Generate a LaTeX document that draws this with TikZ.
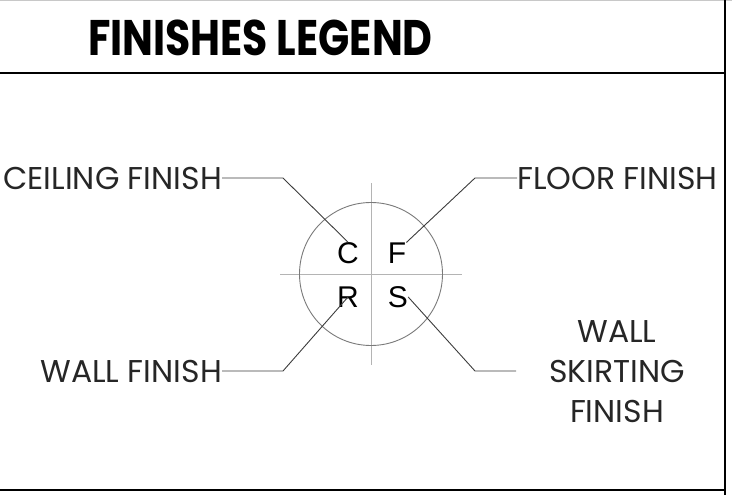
\documentclass[tikz,border=0pt]{standalone}
\usepackage{fontspec}
\setmainfont{Poppins}
\newfontfamily\keyfont{Liberation Sans}
\usetikzlibrary{positioning}
\definecolor{framegray}{HTML}{C8C8C8}
\definecolor{ringgray}{HTML}{7A7A7A}
\definecolor{crossgray}{HTML}{B4B4B4}
\definecolor{leadergray}{HTML}{3C3C3C}

\tikzset{
  frameline/.style={draw=black, line width=2pt},
  finishlabel/.style={inner sep=0pt, font=\fontsize{31.5}{40}\selectfont, text=black!85},
  keyletter/.style={inner sep=0pt, font=\keyfont\fontsize{30}{30}\selectfont},
  leader/.style={draw=leadergray, line width=0.9pt},
}

\begin{document}
\begin{tikzpicture}[x=1pt, y=-1pt]
  \useasboundingbox (0,0) rectangle (732,495);

  % sheet frame
  \draw[framegray, line width=1pt] (0,1) -- (732,1);
  \draw[frameline] (0,73) -- (725,73);
  \draw[frameline] (0,490) -- (725,490);
  \draw[frameline] (725,0) -- (725,495);

  % title
  \node[inner sep=0pt, anchor=west, xscale=0.82,
        font=\fontsize{50}{50}\bfseries\selectfont] (title) at (88,38) {FINISHES LEGEND};

  % the key symbol
  \draw[crossgray, line width=0.8pt] (371,183) -- (371,365);
  \draw[crossgray, line width=0.8pt] (280,274) -- (462,274);
  \node[circle, draw=ringgray, line width=0.9pt, minimum size=143pt, inner sep=0pt]
    (ring) at (371,274) {};

  \node[keyletter] (keyC) at (348,253) {C};
  \node[keyletter] (keyF) at (397,253) {F};
  \node[keyletter] (keyR) at (348,297) {R};
  \node[keyletter] (keyS) at (398,297) {S};

  % labels
  \node[finishlabel, anchor=east] (ceiling) at (222,178) {CEILING FINISH};
  \node[finishlabel, anchor=west] (floor) at (517,178) {FLOOR FINISH};
  \node[finishlabel, anchor=east] (wall) at (222,371) {WALL FINISH};
  \node[finishlabel, align=center] (skirting) at (617,372)
    {WALL\\SKIRTING\\FINISH};

  % leader lines
  \coordinate (ceilbend) at (283,178);
  \coordinate (floorbend) at (475,178);
  \coordinate (wallbend) at (283,371);
  \coordinate (skirtbend) at (475,371);
  \coordinate (skirtend) at (516,371);

  \draw[leader] (ceiling.east) -- (ceilbend) -- (keyC.north);
  \draw[leader] (floor.west) -- (floorbend) -- (keyF.north east);
  \draw[leader] (wall.east) -- (wallbend) -- (keyR.center);
  \draw[leader] (skirtend) -- (skirtbend) -- (keyS.east);
\end{tikzpicture}
\end{document}
